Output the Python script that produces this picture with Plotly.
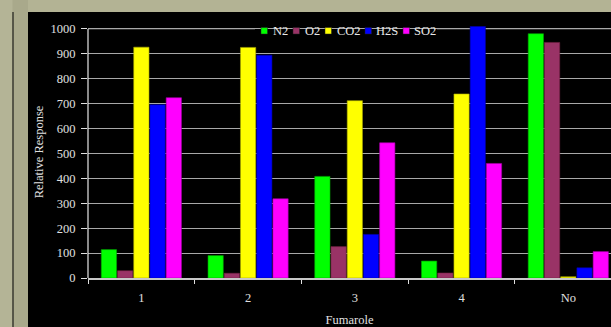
import plotly.graph_objects as go

categories = ["1", "2", "3", "4", "No"]
series_names = ["N2", "O2", "CO2", "H2S", "SO2"]
n2 = [114, 90, 408, 68, 981]
o2 = [29, 19, 126, 20, 946]
co2 = [927, 926, 712, 739, 5]
h2s = [696, 895, 175, 1010, 41]
so2 = [724, 318, 543, 460, 106]
colors = ["#00ff00", "#993366", "#ffff00", "#0000ff", "#ff00ff"]
line_colors = ["#00aa00", "#772244", "#aaaa00", "#0000aa", "#aa00aa"]
y_ticks = [0, 100, 200, 300, 400, 500, 600, 700, 800, 900, 1000]

W, H = 611, 327
ML, MR, MT, MB = 88, 0, 26, 49
PW, PH = W - ML - MR, H - MT - MB


def px(x):
    return (x - ML) / PW


def py(y):
    return (H - MB - y) / PH


fig = go.Figure()
for name, vals, c, lc in zip(series_names, [n2, o2, co2, h2s, so2], colors, line_colors):
    fig.add_trace(go.Bar(x=categories, y=vals, name=name, marker_color=c,
                         marker_line_color=lc, marker_line_width=0.6, showlegend=False))

font = dict(family="Liberation Serif, Times New Roman, serif", size=12.5, color="#e0e0e0")

shapes = [
    dict(type="rect", xref="paper", yref="paper", x0=px(28), x1=1.0,
         y0=py(H), y1=py(12), fillcolor="black", line_width=0, layer="below"),
    dict(type="rect", xref="paper", yref="paper", x0=px(0), x1=px(28),
         y0=py(H), y1=py(0), fillcolor="#a9a98b", line_width=0, layer="below"),
    dict(type="rect", xref="paper", yref="paper", x0=px(0), x1=px(12.5),
         y0=py(H), y1=py(0), fillcolor="#b4b496", line_width=0, layer="below"),
    dict(type="line", xref="paper", yref="paper", x0=px(13), x1=px(13),
         y0=py(H), y1=py(12), line=dict(color="#3a3a30", width=1.5), layer="below"),
    dict(type="line", xref="paper", yref="y", x0=0, x1=1, y0=1000, y1=1000,
         line=dict(color="#2e2e2e", width=2), layer="between"),
    dict(type="line", xref="paper", yref="y", x0=0, x1=0, y0=0, y1=1000,
         line=dict(color="#e8e8e8", width=1.2), layer="above"),
    # legend background
    dict(type="rect", xref="paper", yref="paper", x0=px(255), x1=px(437),
         y0=py(38), y1=py(24), fillcolor="black", line_width=0, layer="between"),
]

annotations = []
leg_sq_x = [261, 293, 325, 365, 403]
leg_tx_x = [271, 303, 335, 374, 412]
for name, c, sx, tx in zip(series_names, colors, leg_sq_x, leg_tx_x):
    shapes.append(dict(type="rect", xref="paper", yref="paper", x0=px(sx), x1=px(sx + 6.5),
                       y0=py(34), y1=py(27.5), fillcolor=c, line=dict(color="#202020", width=0.5),
                       layer="above"))
    annotations.append(dict(text=name, xref="paper", yref="paper", x=px(tx), y=py(31),
                            xanchor="left", yanchor="middle", showarrow=False,
                            font=dict(family=font["family"], size=12.5, color="#e8e8e8")))

fig.update_layout(
    width=W, height=H,
    margin=dict(l=ML, r=MR, t=MT, b=MB),
    paper_bgcolor="#b3b394",
    plot_bgcolor="black",
    font=font,
    barmode="group",
    bargap=0.24,
    bargroupgap=0.06,
    showlegend=False,
    xaxis=dict(type="category", range=[-0.5, 4.4], showgrid=False,
               showline=True, linecolor="#c8c8c8", linewidth=1.5,
               ticks="outside", ticklen=4, tickcolor="#e0e0e0", tickson="boundaries",
               ticklabelstandoff=7,
               title=dict(text="Fumarole", standoff=12, font=font)),
    yaxis=dict(range=[0, 1012], tickvals=y_ticks, showgrid=True, gridcolor="#a8a8a8", gridwidth=1.2,
               showline=False, ticks="outside", ticklen=6, tickcolor="#e0e0e0",
               ticklabelstandoff=3, zeroline=False,
               title=dict(text="Relative Response", standoff=4, font=font)),
    shapes=shapes,
    annotations=annotations,
)
fig.write_html("out.html")
